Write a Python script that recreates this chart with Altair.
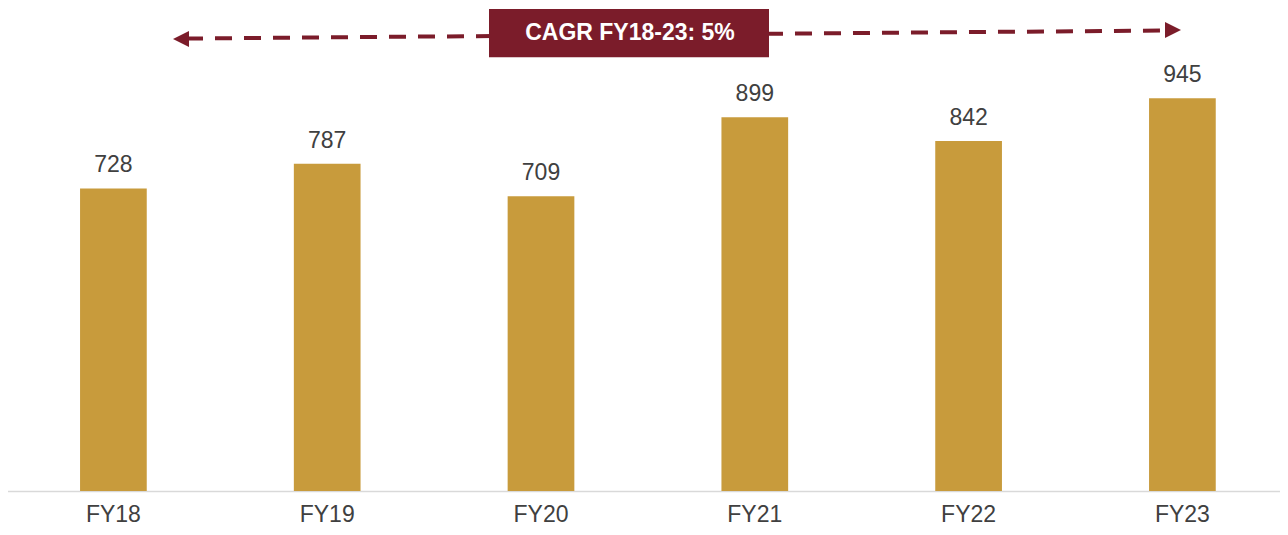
import altair as alt
import pandas as pd

categories = ["FY18", "FY19", "FY20", "FY21", "FY22", "FY23"]
values = [728, 787, 709, 899, 842, 945]
cagr_label = "CAGR FY18-23: 5%"

BAR = "#C89B3C"
MAROON = "#7B1C2A"
TEXT = "#404040"
FONT = "Liberation Sans"

df = pd.DataFrame({"year": categories, "value": values})

x = alt.X(
    "year:N",
    sort=categories,
    title=None,
    scale=alt.Scale(range=[-1.5, 1281.3], paddingInner=0.688, paddingOuter=0.344),
    axis=alt.Axis(
        labelAngle=0,
        labelFontSize=23,
        labelColor=TEXT,
        labelFont=FONT,
        labelPadding=12,
        ticks=False,
        tickSize=0,
        domainColor="#d9d9d9",
        domainWidth=1.5,
        grid=False,
    ),
)
y = alt.Y("value:Q", scale=alt.Scale(domain=[0, 1162], nice=False), axis=None)

base = alt.Chart(df)
bars = base.mark_bar(color=BAR).encode(x=x, y=y)
labels = base.mark_text(
    dy=-16, baseline="alphabetic", fontSize=23, color=TEXT, font=FONT
).encode(x=x, y=y, text="value:Q")

ann = alt.Chart(pd.DataFrame({"t": [cagr_label]}))
line = ann.mark_rule(
    color=MAROON, strokeWidth=4, strokeDash=[17, 12], strokeDashOffset=3
).encode(
    x=alt.value(181), x2=alt.value(1157), y=alt.value(30.5), y2=alt.value(22.5)
)
head_left = ann.mark_point(
    shape="M1,-1L-1,0L1,1Z", filled=True, color=MAROON, size=256, opacity=1
).encode(x=alt.value(173), y=alt.value(31))
head_right = ann.mark_point(
    shape="M-1,-1L1,0L-1,1Z", filled=True, color=MAROON, size=256, opacity=1
).encode(x=alt.value(1165), y=alt.value(22))
box = ann.mark_rect(color=MAROON).encode(
    x=alt.value(481), x2=alt.value(761), y=alt.value(1), y2=alt.value(49.3)
)
box_text = ann.mark_text(
    color="white", fontSize=23, fontWeight="bold", font=FONT, baseline="middle", align="center"
).encode(x=alt.value(622), y=alt.value(25), text="t:N")

chart = (
    alt.layer(bars, labels, line, head_left, head_right, box, box_text)
    .properties(
        width=1272,
        height=483,
        padding={"left": 0, "top": 0, "right": 0, "bottom": 36},
        autosize=alt.AutoSizeParams(type="none"),
    )
    .configure_view(stroke=None)
)

chart.save("out.html", embed_options={"renderer": "svg", "actions": False})
